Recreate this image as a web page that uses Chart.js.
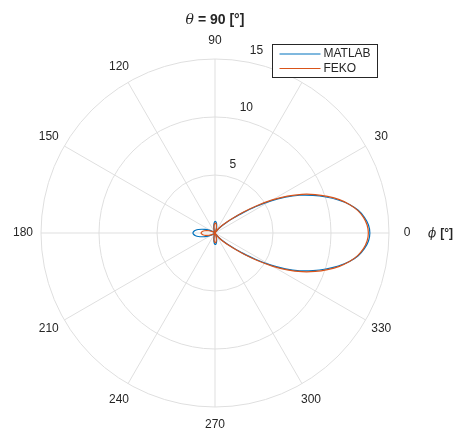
<!DOCTYPE html>
<html>
<head>
<meta charset="utf-8">
<title>Azimuth cut, theta = 90</title>
<script src="https://cdn.jsdelivr.net/npm/chart.js@4.4.0/dist/chart.umd.min.js"></script>
<style>
  html, body { margin: 0; padding: 0; background: #ffffff; }
  #wrap { width: 454px; height: 435px; }
</style>
</head>
<body>
<div id="wrap"><canvas id="c" width="454" height="435"></canvas></div>
<script>
// Azimuth cut of the radiation pattern in the plane theta = 90 deg (linear magnitude).
// phi in degrees, measured counter-clockwise from the +x direction.
const phiDeg = [
  0, 3, 6, 9, 12, 15, 18, 21, 24, 27, 30, 33, 36, 39, 42, 46, 50, 55, 60, 65,
  70, 74, 78, 82, 86, 90, 94, 98, 102, 106, 110, 115, 120, 130, 140, 145, 150, 155, 160, 164,
  168, 172, 176, 180, 184, 188, 192, 196, 200, 205, 210, 215, 220, 230, 240, 245, 250, 254, 258, 262,
  266, 270, 274, 278, 282, 286, 290, 295, 300, 305, 310, 314, 318, 321, 324, 327, 330, 333, 336, 339,
  342, 345, 348, 351, 354, 357
];

const matlabMag = [
  13.35, 13.25, 12.95, 12.50, 11.85, 11.00, 10.05, 9.05, 8.00, 6.80, 5.50, 4.15, 2.95, 2.05, 1.45, 0.90, 0.50, 0.18, 0.08, 0.15,
  0.30, 0.50, 0.70, 0.88, 0.99, 1.00, 0.90, 0.72, 0.50, 0.32, 0.18, 0.08, 0.03, 0.01, 0.08, 0.17, 0.34, 0.58, 0.90, 1.18,
  1.46, 1.69, 1.84, 1.90, 1.84, 1.69, 1.46, 1.18, 0.90, 0.58, 0.34, 0.17, 0.08, 0.01, 0.03, 0.08, 0.18, 0.31, 0.49, 0.70,
  0.88, 0.98, 0.97, 0.86, 0.69, 0.49, 0.29, 0.15, 0.08, 0.18, 0.50, 0.90, 1.45, 2.05, 2.95, 4.15, 5.50, 6.80, 8.00, 9.05,
  10.05, 11.00, 11.85, 12.50, 12.95, 13.25
];

const fekoMag = [
  13.22, 13.13, 12.87, 12.45, 11.85, 11.10, 10.20, 9.25, 8.20, 7.00, 5.70, 4.35, 3.15, 2.20, 1.55, 0.95, 0.50, 0.18, 0.06, 0.12,
  0.25, 0.42, 0.60, 0.75, 0.84, 0.84, 0.76, 0.60, 0.42, 0.26, 0.14, 0.06, 0.02, 0.01, 0.05, 0.11, 0.21, 0.37, 0.57, 0.75,
  0.92, 1.07, 1.16, 1.20, 1.16, 1.07, 0.92, 0.75, 0.57, 0.37, 0.21, 0.11, 0.05, 0.01, 0.02, 0.06, 0.14, 0.26, 0.41, 0.59,
  0.75, 0.82, 0.82, 0.73, 0.58, 0.41, 0.24, 0.12, 0.06, 0.18, 0.50, 0.95, 1.55, 2.20, 3.15, 4.35, 5.70, 7.00, 8.20, 9.25,
  10.20, 11.10, 11.85, 12.45, 12.87, 13.13
];

const seriesNames = ['MATLAB', 'FEKO'];
const angleTickDeg = [0, 30, 60, 90, 120, 150, 180, 210, 240, 270, 300, 330];
const radialTicks = [5, 10, 15];
const radialMax = 15;

const colors = { matlab: '#0072BD', feko: '#D95319', grid: '#dfdfdf', text: '#262626' };
const FONT = '"Liberation Sans", Arial, Helvetica, sans-serif';
const SERIF_IT = '"DejaVu Serif", "Liberation Serif", "Times New Roman", serif';

// One category per degree; the radar scale runs clockwise, so category i is phi = 360 - i.
const angleLabels = Array.from({ length: 360 }, (_, i) => String((360 - i) % 360));

function toRadarSeries(mag) {
  const out = new Array(angleLabels.length).fill(null);
  phiDeg.forEach((p, k) => { out[angleLabels.indexOf(String(p))] = mag[k]; });
  return out;
}

// Angle labels, radial tick labels, axis caption, title and legend box.
const polarDecor = {
  id: 'polarDecor',
  afterDraw(chart) {
    const ctx = chart.ctx;
    const s = chart.scales.r;
    ctx.save();
    ctx.fillStyle = colors.text;

    // angular tick labels, centred just outside the rim
    ctx.font = '12px ' + FONT;
    ctx.textAlign = 'center';
    ctx.textBaseline = 'middle';
    angleTickDeg.forEach(a => {
      const p = s.getPointPosition(angleLabels.indexOf(String(a)), s.drawingArea + 18);
      ctx.fillText(String(a), p.x, p.y);
    });

    // radial tick labels along the 80 degree spoke
    ctx.textAlign = 'left';
    const spoke = angleLabels.indexOf('80');
    radialTicks.forEach(v => {
      const p = s.getPointPosition(spoke, s.getDistanceFromCenterForValue(v));
      ctx.fillText(String(v), p.x + 4.5, p.y - 11);
    });

    // axis caption: phi [deg]
    let x = s.xCenter + s.drawingArea + 39;
    const yc = s.yCenter + 0.5;
    ctx.font = 'italic 12px ' + SERIF_IT;
    ctx.fillText('\u03D5', x, yc);
    x += ctx.measureText('\u03D5').width + 4;
    ctx.font = 'bold 12px ' + FONT;
    ctx.fillText('[\u00B0]', x, yc);

    // title: theta = 90 [deg]
    const tParts = [
      { t: '\u03B8', f: 'italic 14px ' + SERIF_IT },
      { t: ' = 90 [\u00B0]', f: 'bold 14px ' + FONT }
    ];
    let tw = 0;
    tParts.forEach(pt => { ctx.font = pt.f; pt.w = ctx.measureText(pt.t).width; tw += pt.w; });
    x = s.xCenter - tw / 2;
    tParts.forEach(pt => { ctx.font = pt.f; ctx.fillText(pt.t, x, 20); x += pt.w; });

    // legend
    const lg = { x: 272.5, y: 44.5, w: 105, h: 33 };
    ctx.fillStyle = '#ffffff';
    ctx.fillRect(lg.x, lg.y, lg.w, lg.h);
    ctx.strokeStyle = colors.text;
    ctx.lineWidth = 1;
    ctx.strokeRect(lg.x, lg.y, lg.w, lg.h);
    ctx.font = '12px ' + FONT;
    ctx.textAlign = 'left';
    chart.data.datasets.forEach((ds, i) => {
      const y = lg.y + 9.5 + i * 14.5;
      ctx.strokeStyle = ds.borderColor;
      ctx.lineWidth = 1.2;
      ctx.beginPath();
      ctx.moveTo(lg.x + 7, y);
      ctx.lineTo(lg.x + 48, y);
      ctx.stroke();
      ctx.fillStyle = colors.text;
      ctx.fillText(ds.label, lg.x + 51, y);
    });
    ctx.restore();
  }
};

new Chart(document.getElementById('c'), {
  type: 'radar',
  data: {
    labels: angleLabels,
    datasets: [
      { label: seriesNames[0], data: toRadarSeries(matlabMag), borderColor: colors.matlab, order: 1 },
      { label: seriesNames[1], data: toRadarSeries(fekoMag), borderColor: colors.feko, order: 0 }
    ]
  },
  options: {
    responsive: false,
    animation: false,
    devicePixelRatio: 1,
    layout: { padding: { left: 41, right: 65, top: 59, bottom: 28 } },
    datasets: { radar: { spanGaps: true } },
    elements: {
      point: { radius: 0, hoverRadius: 0 },
      line: { tension: 0.25, fill: false, borderWidth: 1.2 }
    },
    plugins: {
      legend: { display: false },
      title: { display: false },
      tooltip: { enabled: false }
    },
    scales: {
      r: {
        min: 0,
        max: radialMax,
        startAngle: 90,
        ticks: { display: false, stepSize: 5 },
        grid: { circular: true, color: colors.grid, lineWidth: 1 },
        angleLines: {
          display: true,
          lineWidth: 1,
          color: ctx => (angleTickDeg.includes(Number(angleLabels[ctx.index])) ? colors.grid : null)
        },
        pointLabels: { display: false }
      }
    }
  },
  plugins: [polarDecor]
});
</script>
</body>
</html>
